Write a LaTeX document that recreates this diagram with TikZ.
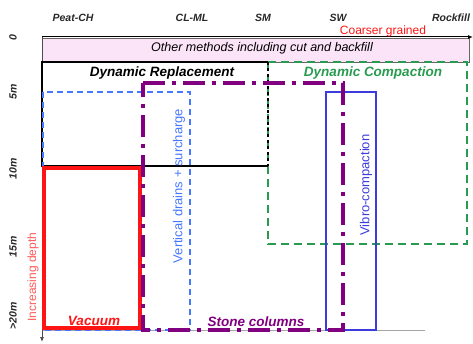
\documentclass[tikz,border=0pt]{standalone}
\usepackage{fontspec}
\setmainfont{Liberation Sans}
\definecolor{soilPink}{RGB}{252,228,248}
\definecolor{soilGreen}{RGB}{40,155,80}
\definecolor{soilBlue}{RGB}{70,120,255}
\definecolor{soilVibro}{RGB}{60,60,220}
\definecolor{soilPurple}{RGB}{128,0,128}
\definecolor{soilRed}{RGB}{255,20,20}
\definecolor{soilText}{RGB}{40,40,40}
\usetikzlibrary{arrows.meta}

\begin{document}
\begin{tikzpicture}[
    x=1pt, y=-1pt,
    >={Latex[length=5pt,width=4pt]},
    % --- Estilos ---
    axis/.style={draw=gray!70, line width=0.8pt},
    soil/.style={font=\fontsize{10.5}{12}\selectfont\bfseries\itshape, text=soilText, inner sep=0pt},
    depth/.style={soil, rotate=90},
    method/.style={font=\fontsize{13.5}{16}\selectfont\bfseries\itshape, inner sep=0pt},
    sidelabel/.style={font=\fontsize{13}{15}\selectfont, rotate=90, inner sep=0pt},
    otherbox/.style={draw=gray!80!black, fill=soilPink, line width=0.8pt},
    drbox/.style={draw=black, line width=1.5pt},
    dcbox/.style={draw=soilGreen, line width=2pt, dash pattern=on 8pt off 5pt},
    vdbox/.style={draw=soilBlue, line width=1.2pt, dash pattern=on 6pt off 4pt},
    vibrobox/.style={draw=soilVibro, line width=1.5pt},
    vacbox/.style={draw=soilRed, line width=4pt},
    stonebox/.style={draw=soilPurple, line width=4pt, dash pattern=on 22pt off 7pt on 4pt off 7pt}
]
\useasboundingbox (0,0) rectangle (473,344);

% ====== Ejes ======
\coordinate (origin) at (42,37);
\coordinate (xend) at (473,37);
\coordinate (yend) at (42,342);
\coordinate (ground) at (425,330);

\draw[otherbox] (42,38) rectangle (469,62);
\draw[axis] (42,330) -- (ground);
\draw[->, axis, draw=black!70] (origin) -- (yend);
\draw[->, black, line width=1pt] (origin) -- (xend);

% ====== Cajas de métodos ======
\draw[dcbox] (268,62) rectangle (467,244);
\draw[drbox] (268,166) -- (42,166) -- (42,62) -- (268,62);
\draw[drbox, dashed, line width=1.2pt] (268,62) -- (268,166);
\draw[vdbox] (43,92) rectangle (190,330);
\draw[vibrobox] (326,92) rectangle (376,330);
\draw[vacbox] (44,168) rectangle (140,328);
\draw[stonebox] (143,83) -- (343,83) -- (343,330) -- (143,330) -- cycle;

% ====== Suelos (arriba) ======
\node[soil] (peat) at (73,18) {Peat-CH};
\node[soil] (clml) at (192,18) {CL-ML};
\node[soil] (sm) at (263,18) {SM};
\node[soil] (sw) at (338,18) {SW};
\node[soil] (rock) at (451,18) {Rockfill};
\node[font=\fontsize{12}{14}\selectfont, text=soilRed, inner sep=0pt] (coarse) at (383,31) {Coarser grained};

% ====== Profundidades ======
\node[depth] (d0) at (13,38) {0};
\node[depth] (d5) at (13,92) {5m};
\node[depth] (d10) at (13,169) {10m};
\node[depth] (d15) at (13,247) {15m};
\node[depth] (d20) at (13,316) {>20m};
\node[sidelabel, font=\fontsize{12}{14}\selectfont, text=soilRed!70] (incr) at (33,277) {Increasing depth};

% ====== Etiquetas de métodos ======
\node[font=\fontsize{12.5}{14}\selectfont\itshape, inner sep=0pt] (other) at (262,48) {Other methods including cut and backfill};
\node[method] (dynrep) at (162,73) {Dynamic Replacement};
\node[method, text=soilGreen] (dyncomp) at (373,73) {Dynamic Compaction};
\node[method, text=soilRed] (vac) at (94,321) {Vacuum};
\node[method, text=soilPurple] (stone) at (256,322) {Stone columns};
\node[sidelabel, text=soilBlue] (vdrain) at (179,186) {Vertical drains + surcharge};
\node[sidelabel, text=soilVibro] (vibro) at (366,185) {Vibro-compaction};

\end{tikzpicture}
\end{document}
